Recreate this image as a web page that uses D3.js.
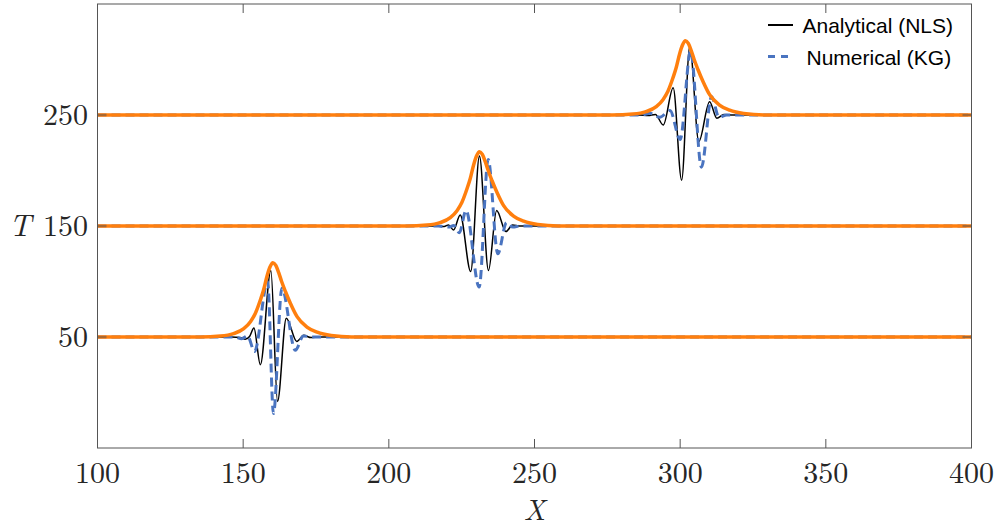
<!DOCTYPE html>
<html><head><meta charset="utf-8">
<script src="https://cdn.jsdelivr.net/npm/d3@7"></script>
<style>body{margin:0;background:#fff}svg{display:block}</style>
</head><body>
<svg id="c" width="997" height="527"></svg>
<script>
// ---- data ----
const xTicks = [100,150,200,250,300,350,400];
const tTicks = [50,150,250];
const packetTimes = [50,150,250];
const packetCenters = [160.2, 231.1, 301.8];
// orange envelope profile: offset from packet centre and amplitude
const envDX  = [-240,-25,-18,-13.5,-10,-7.7,-6,-4.3,-3.2,-2,-1,0,1,2,3,4.3,6,8.3,11.7,15.2,20,27,240];
const envAmp = [0,0,0.8,3.0,7.5,13.8,21.4,33.3,42.3,55,63,67,64.5,58,50,41,30.4,18.3,9.0,4.3,1.3,0,0];
// analytical (NLS), per packet: X positions and amplitudes
const nlsX1 = [100,146,149,150.7,152.2,153.7,155.9,159.5,161.8,164.8,168.4,170.8,173.3,176,400];
const nlsA1 = [0,0,-0.5,-2,0.5,8,-25,60,-58,17,-4,1.5,-0.5,0,0];
const nlsX2 = [100,216,219,220.5,222.2,224.5,228.1,231.1,234.2,237,240.2,242.5,245,400];
const nlsA2 = [0,0,-0.5,1,-3.6,10,-41,63,-40,14,-5,1,0,0];
const nlsX3 = [100,286,289,291.5,294.2,297.6,300.5,303.3,306.4,310.1,312.6,315,318,400];
const nlsA3 = [0,0,-0.5,0.5,-9,24.5,-58.7,61.7,-24,12,-3,0.5,0,0];
// numerical (KG), per packet
const kgX1 = [100,147,149.5,151.5,153.9,158.4,160.4,163.3,167.9,170.7,173.5,400];
const kgA1 = [0,0,-1.5,1,-13,50,-69,44,-12,1,0,0];
const kgX2 = [100,217,220.5,222.3,224.2,226.5,231,234.1,237.4,240.4,242.6,245,400];
const kgA2 = [0,0,-1,0.5,-6,14,-55,60,-25,3,-1,0,0];
const kgX3 = [100,287,289.6,293,296.5,300,303.6,307.3,310.8,313.3,316,400];
const kgA3 = [0,0,1.5,-2,4,-22,58,-47,16.5,-2,0,0];
const legendLabels = ["Analytical (NLS)","Numerical (KG)"];

// ---- chart ----
const svg = d3.select("#c");
const x = d3.scaleLinear().domain([100,400]).range([97.5,971.5]);
const y = d3.scaleLinear().domain([-50,350]).range([448,4]);
const line = d3.line().x(d=>x(d[0])).y(d=>y(d[1])).curve(d3.curveMonotoneX);

const nls = [[nlsX1,nlsA1],[nlsX2,nlsA2],[nlsX3,nlsA3]];
const kg  = [[kgX1,kgA1],[kgX2,kgA2],[kgX3,kgA3]];
svg.append("clipPath").attr("id","clp").append("rect")
  .attr("x",x(100)).attr("y",y(350)).attr("width",x(400)-x(100)).attr("height",y(-50)-y(350));
const g = svg.append("g").attr("clip-path","url(#clp)");

nls.forEach((p,i)=>{
  const pts = p[0].map((v,j)=>[v, packetTimes[i]+p[1][j]]);
  g.append("path").attr("d",line(pts)).attr("fill","none").attr("stroke","#000").attr("stroke-width",1.5);
});
kg.forEach((p,i)=>{
  const pts = p[0].map((v,j)=>[v, packetTimes[i]+p[1][j]]);
  g.append("path").attr("d",line(pts)).attr("fill","none").attr("stroke","#4a74c0")
   .attr("stroke-width",3).attr("stroke-dasharray","9,5");
});
packetCenters.forEach((c,i)=>{
  const pts = envDX.map((d,j)=>[c+d, packetTimes[i]+envAmp[j]]);
  g.append("path").attr("d",line(pts)).attr("fill","none").attr("stroke","#ff7f0e").attr("stroke-width",3.5);
});

// axes box
const ax = svg.append("g").attr("stroke","#555").attr("stroke-width",1).attr("fill","none");
ax.append("rect").attr("x",x(100)).attr("y",y(350)).attr("width",x(400)-x(100)).attr("height",y(-50)-y(350));
xTicks.forEach(t=>{
  ax.append("line").attr("x1",x(t)).attr("x2",x(t)).attr("y1",y(-50)).attr("y2",y(-50)-9);
  ax.append("line").attr("x1",x(t)).attr("x2",x(t)).attr("y1",y(350)).attr("y2",y(350)+9);
});
tTicks.forEach(t=>{
  ax.append("line").attr("x1",x(100)).attr("x2",x(100)+9).attr("y1",y(t)).attr("y2",y(t));
  ax.append("line").attr("x1",x(400)).attr("x2",x(400)-9).attr("y1",y(t)).attr("y2",y(t));
});
const serif = "'Latin Modern Roman','CMU Serif','Liberation Serif','DejaVu Serif',serif";
svg.append("g").selectAll("text").data(xTicks).join("text")
  .attr("x",d=>x(d)).attr("y",483).attr("text-anchor","middle")
  .attr("font-family",serif).attr("font-size",30).attr("fill","#262626").text(d=>d);
svg.append("g").selectAll("text").data(tTicks).join("text")
  .attr("x",88).attr("y",d=>y(d)+10).attr("text-anchor","end")
  .attr("font-family",serif).attr("font-size",30).attr("fill","#262626").text(d=>d);
svg.append("text").attr("x",x(250)).attr("y",520).attr("text-anchor","middle")
  .attr("font-family",serif).attr("font-style","italic").attr("font-size",29).attr("fill","#262626").text("X");
svg.append("text").attr("x",9).attr("y",236)
  .attr("font-family",serif).attr("font-style","italic").attr("font-size",31).attr("fill","#262626").text("T");

// legend
const lg = svg.append("g");
lg.append("line").attr("x1",768).attr("x2",793).attr("y1",25).attr("y2",25).attr("stroke","#000").attr("stroke-width",2);
lg.append("line").attr("x1",768).attr("x2",790).attr("y1",56.5).attr("y2",56.5).attr("stroke","#4a74c0")
  .attr("stroke-width",3).attr("stroke-dasharray","7,6");
lg.append("text").attr("x",802.5).attr("y",33.3).attr("font-family","'Liberation Sans',Arial,sans-serif")
  .attr("font-size",21).attr("fill","#000").text(legendLabels[0]);
lg.append("text").attr("x",806.5).attr("y",65).attr("font-family","'Liberation Sans',Arial,sans-serif")
  .attr("font-size",21).attr("fill","#000").text(legendLabels[1]);
</script>
</body></html>
